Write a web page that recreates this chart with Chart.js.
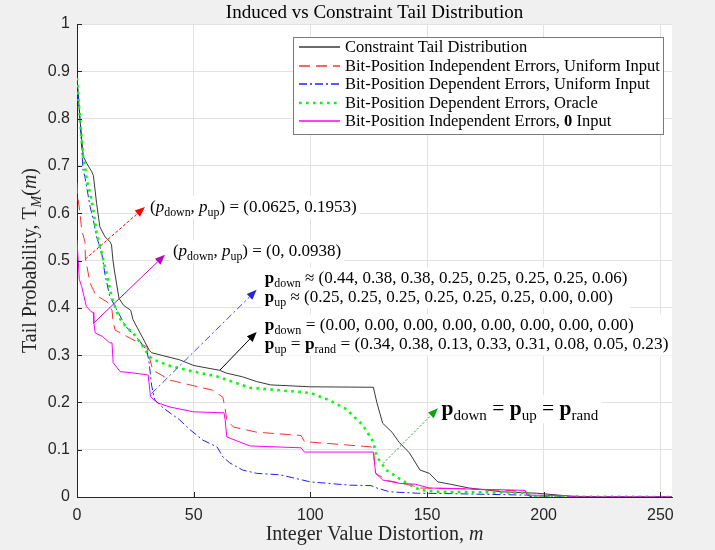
<!DOCTYPE html>
<html>
<head>
<meta charset="utf-8">
<script src="https://cdn.jsdelivr.net/npm/chart.js@4.4.1/dist/chart.umd.min.js"></script>
<style>
  html, body { margin: 0; padding: 0; background: #f0f0f0; }
  #wrap { width: 715px; height: 550px; }
</style>
</head>
<body>
<div id="wrap"><canvas id="tailChart" width="715" height="550"></canvas></div>
<script>
// values: m (integer distortion) and tail probability T_M(m)
const constraintM = [0, 1.3, 2.7, 4.1, 6.3, 7, 8.4, 9.8, 12, 14.1, 14.8, 15.4, 16, 18, 20, 23, 24, 27, 31, 32, 36, 44, 50, 61, 64, 71, 77, 83, 100, 127, 128.5, 131, 135, 138, 142.5, 147, 151, 154.6, 160, 168, 182, 197, 211, 225, 255];
const constraintT = [0.886, 0.797, 0.72, 0.706, 0.688, 0.68, 0.621, 0.571, 0.55, 0.54, 0.533, 0.501, 0.48, 0.42, 0.405, 0.395, 0.375, 0.347, 0.31, 0.305, 0.30, 0.29, 0.278, 0.268, 0.262, 0.254, 0.244, 0.237, 0.233, 0.232, 0.20, 0.156, 0.137, 0.116, 0.093, 0.057, 0.05, 0.032, 0.027, 0.019, 0.011, 0.008, 0.002, 0, 0];

const indepUniM = [0, 0.3, 1.3, 2, 3.4, 3.6, 5.6, 7, 8, 13, 15, 15.4, 16.3, 22.7, 30, 31.3, 32.5, 40, 48.4, 58, 62.5, 63.4, 64.2, 67, 77, 96, 97.5, 126, 127, 128, 133, 143, 147, 161, 177, 192, 195, 255];
const indepUniT = [0.665, 0.635, 0.60, 0.565, 0.54, 0.505, 0.452, 0.438, 0.427, 0.412, 0.395, 0.374, 0.353, 0.336, 0.317, 0.29, 0.268, 0.247, 0.237, 0.226, 0.211, 0.19, 0.163, 0.148, 0.137, 0.13, 0.117, 0.106, 0.10, 0.05, 0.035, 0.025, 0.019, 0.018, 0.015, 0.013, 0, 0];

const depUniM = [0, 1.3, 2.6, 3.4, 5.6, 7, 8.4, 10.6, 12, 14, 17, 21, 26, 30, 31, 32, 33.4, 37, 44, 48.5, 54, 60, 62.5, 65.5, 71, 77, 87, 100, 117, 126, 128.5, 134, 146, 161, 193, 195, 255];
const depUniT = [0.886, 0.797, 0.69, 0.677, 0.614, 0.586, 0.55, 0.516, 0.47, 0.425, 0.396, 0.36, 0.335, 0.31, 0.28, 0.235, 0.205, 0.188, 0.163, 0.142, 0.12, 0.106, 0.085, 0.072, 0.057, 0.05, 0.047, 0.032, 0.025, 0.024, 0.019, 0.011, 0.008, 0.007, 0.004, 0, 0];

const oracleM = [0, 1.3, 2.6, 3.4, 4.2, 5.6, 7, 8.4, 10.6, 13, 15, 18, 21, 24, 28, 31, 33, 40, 50, 60, 74, 100, 108, 115, 122.5, 126.8, 128.5, 132.5, 141, 147, 155, 193, 196, 255];
const oracleT = [0.886, 0.797, 0.72, 0.698, 0.67, 0.642, 0.607, 0.558, 0.515, 0.465, 0.42, 0.38, 0.36, 0.347, 0.32, 0.297, 0.29, 0.277, 0.265, 0.255, 0.231, 0.22, 0.205, 0.187, 0.152, 0.118, 0.085, 0.057, 0.03, 0.015, 0.011, 0.009, 0.001, 0];

const zeroInM = [0, 1, 2, 3, 4, 6, 7, 7.2, 7.8, 11, 14, 15, 15.5, 18.5, 23, 30.5, 31.5, 34.5, 40, 50, 63, 63.5, 64.2, 74, 96, 97.5, 127, 128, 131, 138, 145, 151, 192, 193, 210, 212, 255];
const zeroInT = [0.543, 0.46, 0.445, 0.424, 0.403, 0.392, 0.39, 0.369, 0.347, 0.339, 0.326, 0.326, 0.284, 0.265, 0.263, 0.258, 0.212, 0.199, 0.19, 0.18, 0.178, 0.163, 0.127, 0.108, 0.104, 0.095, 0.095, 0.05, 0.036, 0.029, 0.027, 0.019, 0.014, 0.004, 0.003, 0, 0];

const xTicks = [0, 50, 100, 150, 200, 250];
const yTicks = [0, 0.1, 0.2, 0.3, 0.4, 0.5, 0.6, 0.7, 0.8, 0.9, 1];

const seriesLabels = [
    "Constraint Tail Distribution",
    "Bit-Position Independent Errors, Uniform Input",
    "Bit-Position Dependent Errors, Uniform Input",
    "Bit-Position Dependent Errors, Oracle",
    "Bit-Position Independent Errors, *0* Input"
];

// annotation arrows and text, anchored in data units
const notes = [
    { from: [3.6, 0.503], to: [29.1, 0.613], color: "#ff0000", head: "#ff0000", dash: [3, 2],
      at: [31.3, 0.613], lines: ["($p$_{down}, $p$_{up}) = (0.0625, 0.1953)"], size: 17 },
    { from: [7, 0.367], to: [37.7, 0.512], color: "#d000d0", head: "#c000c0", dash: [],
      at: [41.1, 0.52], lines: ["($p$_{down}, $p$_{up}) = (0, 0.0938)"], size: 17 },
    { from: [32, 0.219], to: [77, 0.438], color: "#4040ff", head: "#2828d0", dash: [7, 3, 2, 3],
      at: [80.5, 0.463], lines: ["*p*_{down} \u2248 (0.44, 0.38, 0.38, 0.25, 0.25, 0.25, 0.25, 0.06)",
                                 "*p*_{up} \u2248 (0.25, 0.25, 0.25, 0.25, 0.25, 0.25, 0.00, 0.00)"], size: 17 },
    { from: [61.2, 0.268], to: [77, 0.349], color: "#000000", head: "#000000", dash: [],
      at: [80.5, 0.364], lines: ["*p*_{down} = (0.00, 0.00, 0.00, 0.00, 0.00, 0.00, 0.00, 0.00)",
                                 "*p*_{up} = *p*_{rand} = (0.34, 0.38, 0.13, 0.33, 0.31, 0.08, 0.05, 0.23)"], size: 17.3 },
    { from: [131.2, 0.071], to: [154.7, 0.1875], color: "#18a018", head: "#10a010", dash: [2, 2],
      at: [156.2, 0.187], lines: ["*p*_{down} = *p*_{up} = *p*_{rand}"], size: 21.5 }
];

const styles = [
    { color: "#3a3a3a", width: 1, dash: [] },
    { color: "#ff3030", width: 1, dash: [11, 6] },
    { color: "#2020ff", width: 1, dash: [8, 3, 2, 3] },
    { color: "#00ff00", width: 2.6, dash: [2.6, 4.4] },
    { color: "#ff00ff", width: 1, dash: [] }
];

const serif = '"Liberation Serif", "Times New Roman", serif';

function toPoints(ms, ts) {
    return ms.map((m, i) => ({ x: m, y: ts[i] }));
}

// tiny markup: $..$ italic, *..* bold, _{..} subscript
function parseRich(str) {
    const segs = [];
    let it = false, bf = false, sub = false, buf = "";
    const flush = () => { if (buf) segs.push({ text: buf, it, bf, sub }); buf = ""; };
    for (let i = 0; i < str.length; i++) {
        const c = str[i];
        if (c === "$") { flush(); it = !it; }
        else if (c === "*") { flush(); bf = !bf; }
        else if (c === "_" && str[i + 1] === "{") { flush(); sub = true; i++; }
        else if (c === "}" && sub) { flush(); sub = false; }
        else buf += c;
    }
    flush();
    return segs;
}

function segFont(s, size) {
    const sz = s.sub ? size * 0.7 : size;
    return (s.it ? "italic " : "") + (s.bf ? "bold " : "") + sz + "px " + serif;
}

function richWidth(ctx, str, size) {
    let w = 0;
    parseRich(str).forEach(s => { ctx.font = segFont(s, size); w += ctx.measureText(s.text).width; });
    return w;
}

// draws text with its vertical middle on y
function drawRich(ctx, str, x, y, size, align, color) {
    const w = richWidth(ctx, str, size);
    let cx = align === "center" ? x - w / 2 : x;
    const base = y + size * 0.32;
    ctx.fillStyle = color || "#000";
    ctx.textAlign = "left";
    ctx.textBaseline = "alphabetic";
    parseRich(str).forEach(s => {
        ctx.font = segFont(s, size);
        ctx.fillText(s.text, cx, s.sub ? base + size * 0.22 : base);
        cx += ctx.measureText(s.text).width;
    });
    return w;
}

function arrow(ctx, x0, y0, x1, y1, color, head, dash) {
    const ang = Math.atan2(y1 - y0, x1 - x0);
    const len = 10, half = 4;
    const bx = x1 - len * Math.cos(ang), by = y1 - len * Math.sin(ang);
    ctx.save();
    ctx.strokeStyle = color;
    ctx.lineWidth = 1;
    ctx.setLineDash(dash);
    ctx.beginPath();
    ctx.moveTo(x0, y0);
    ctx.lineTo(bx, by);
    ctx.stroke();
    ctx.setLineDash([]);
    ctx.fillStyle = head;
    ctx.beginPath();
    ctx.moveTo(x1, y1);
    ctx.lineTo(bx + half * Math.sin(ang), by - half * Math.cos(ang));
    ctx.lineTo(bx - half * Math.sin(ang), by + half * Math.cos(ang));
    ctx.closePath();
    ctx.fill();
    ctx.restore();
}

const decorPlugin = {
    id: "decor",
    beforeDraw(chart) {
        const { ctx, chartArea: a } = chart;
        ctx.save();
        ctx.fillStyle = "#f0f0f0";
        ctx.fillRect(0, 0, chart.width, chart.height);
        ctx.fillStyle = "#ffffff";
        ctx.fillRect(a.left, a.top, a.right - a.left, a.bottom - a.top);
        ctx.restore();
    },
    afterDatasetsDraw(chart) {
        const { ctx, chartArea: a } = chart;
        const xs = chart.scales.x, ys = chart.scales.y;
        ctx.save();

        // inward tick marks
        ctx.strokeStyle = "#262626";
        ctx.lineWidth = 1;
        ctx.beginPath();
        yTicks.forEach(v => {
            const py = Math.round(ys.getPixelForValue(v)) + 0.5;
            ctx.moveTo(a.left, py); ctx.lineTo(a.left + 5, py);
        });
        xTicks.forEach(v => {
            const px = Math.round(xs.getPixelForValue(v)) + 0.5;
            ctx.moveTo(px, a.bottom); ctx.lineTo(px, a.bottom - 5);
        });
        ctx.stroke();

        // annotation boxes + text
        notes.forEach(n => {
            const tx = xs.getPixelForValue(n.at[0]);
            const ty = ys.getPixelForValue(n.at[1]);
            const step = n.size * 1.1;
            let w = 0;
            n.lines.forEach(l => { w = Math.max(w, richWidth(ctx, l, n.size)); });
            ctx.fillStyle = "#ffffff";
            ctx.fillRect(tx - 3, ty - n.size * 0.62, w + 6, step * (n.lines.length - 1) + n.size * 1.3);
            n.lines.forEach((l, i) => drawRich(ctx, l, tx, ty + i * step, n.size, "left", "#000"));
        });
        notes.forEach(n => {
            arrow(ctx, xs.getPixelForValue(n.from[0]), ys.getPixelForValue(n.from[1]),
                  xs.getPixelForValue(n.to[0]), ys.getPixelForValue(n.to[1]), n.color, n.head, n.dash);
        });

        // legend box
        const lx = 293, ly = 37, lw = 370, lh = 97, row = 18.5;
        ctx.fillStyle = "#ffffff";
        ctx.fillRect(lx, ly, lw, lh);
        ctx.strokeStyle = "#7a7a7a";
        ctx.lineWidth = 1;
        ctx.strokeRect(lx + 0.5, ly + 0.5, lw, lh);
        seriesLabels.forEach((lab, i) => {
            const y = Math.round(ly + 10 + i * row);
            const st = styles[i];
            ctx.strokeStyle = st.color;
            ctx.lineWidth = st.width === 1 ? 1.3 : st.width;
            ctx.setLineDash(st.dash);
            ctx.beginPath();
            ctx.moveTo(lx + 6, y); ctx.lineTo(lx + 47, y);
            ctx.stroke();
            ctx.setLineDash([]);
            drawRich(ctx, lab, lx + 52, y, 16.5, "left", "#000");
        });
        ctx.restore();
    },
    afterDraw(chart) {
        const { ctx, chartArea: a } = chart;
        ctx.save();
        const cx = (a.left + a.right) / 2;
        drawRich(ctx, "Induced vs Constraint Tail Distribution", cx, 12, 19, "center", "#000");
        drawRich(ctx, "Integer Value Distortion, $m$", cx, 534, 20, "center", "#262626");
        ctx.translate(30, (a.top + a.bottom) / 2);
        ctx.rotate(-Math.PI / 2);
        drawRich(ctx, "Tail Probability, T_{$M$}($m$)", 0, 0, 20, "center", "#262626");
        ctx.restore();
    }
};

const allM = [constraintM, indepUniM, depUniM, oracleM, zeroInM];
const allT = [constraintT, indepUniT, depUniT, oracleT, zeroInT];

const ctx = document.getElementById("tailChart").getContext("2d");
new Chart(ctx, {
    type: "line",
    data: {
        datasets: seriesLabels.map((lab, i) => ({
            label: lab.replace(/\*/g, ""),
            data: toPoints(allM[i], allT[i]),
            borderColor: styles[i].color,
            borderWidth: styles[i].width,
            borderDash: styles[i].dash,
            pointRadius: 0,
            tension: 0,
            fill: false,
            order: 5 - i
        }))
    },
    options: {
        responsive: false,
        animation: false,
        devicePixelRatio: 1,
        layout: { padding: { top: 24, right: 43, bottom: 0, left: 0 } },
        plugins: {
            legend: { display: false },
            title: { display: false },
            tooltip: { enabled: false }
        },
        scales: {
            x: {
                type: "linear",
                min: 0,
                max: 255,
                afterBuildTicks: s => { s.ticks = xTicks.map(v => ({ value: v })); },
                afterFit: s => { s.height = 53; },
                grid: { color: "#e2e2e2", drawTicks: false },
                border: { color: "#262626" },
                ticks: { color: "#262626", padding: 9, maxRotation: 0,
                         font: { family: "Liberation Sans", size: 16 } }
            },
            y: {
                type: "linear",
                min: 0,
                max: 1,
                afterBuildTicks: s => { s.ticks = yTicks.map(v => ({ value: v })); },
                afterFit: s => { s.width = 77; },
                grid: { color: "#e2e2e2", drawTicks: false },
                border: { color: "#262626" },
                ticks: { color: "#262626", padding: 7,
                         font: { family: "Liberation Sans", size: 16 },
                         callback: v => String(Math.round(v * 10) / 10) }
            }
        }
    },
    plugins: [decorPlugin]
});
</script>
</body>
</html>
